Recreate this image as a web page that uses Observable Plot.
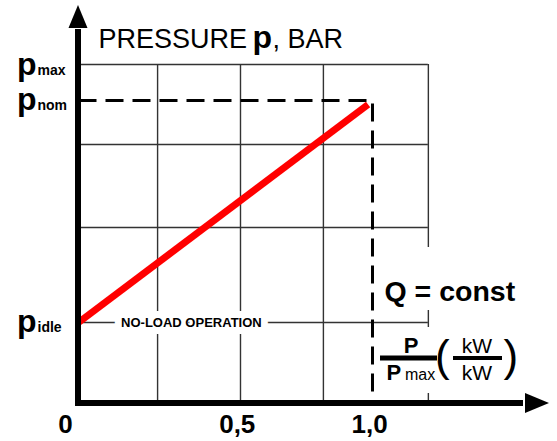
<!DOCTYPE html>
<html>
<head>
<meta charset="utf-8">
<script src="https://cdn.jsdelivr.net/npm/d3@7"></script>
<script src="https://cdn.jsdelivr.net/npm/@observablehq/plot@0.6"></script>
<style>
  html, body { margin: 0; padding: 0; background: #fff; }
</style>
</head>
<body>
<div id="chart"></div>
<script>
// ---- data ----
const pLevels = [1.0, 0.894, 0.239];          // p_max, p_nom, p_idle (relative)
const pSubs = ["max", "nom", "idle"];
const pMax = 1.0, pNom = 0.894, pIdle = 0.239;
const gridX = [0.269, 0.551, 0.833, 1.19];
const gridY = [1.0, 0.764, 0.519, 0.239];
const load = [0, 0.985];                       // P / Pmax
const pressure = [0.239, 0.882];               // pressure line
const xTickValues = [-0.044, 0.54, 0.99];
const xTickLabels = ["0", "0,5", "1,0"];
const titleParts = ["PRESSURE", "p", ", BAR"];
const noteLabel = "NO-LOAD OPERATION";
const noteX = 0.384;
const conditionLabel = "Q = const";

const W = 557, H = 441;
const FONT = "'Liberation Sans', Arial, Helvetica, sans-serif";

function findScales(args) {
  return args.find(a => a && typeof a.x === "function" && typeof a.y === "function");
}

// white boxes behind right-hand labels
function whiteBoxes(...args) {
  const {x, y} = findScales(args);
  const x1 = x(1), y0 = y(0);
  const g = d3.create("svg:g").attr("fill", "white");
  g.append("rect").attr("x", x1 + 6).attr("y", y0 - 156).attr("width", 142).attr("height", 63);
  g.append("rect").attr("x", x1 + 6).attr("y", y0 - 76).attr("width", 142).attr("height", 66);
  return g.node();
}

// axis label P/Pmax (kW/kW)
function fractionLabel(...args) {
  const {x, y} = findScales(args);
  const x1 = x(1), y0 = y(0);
  const g = d3.create("svg:g").attr("font-family", FONT).attr("fill", "black")
    .attr("text-anchor", "start");
  g.append("text").attr("x", x1 + 39).attr("y", y0 - 50).attr("text-anchor", "middle")
    .attr("font-size", 22).attr("font-weight", "bold").text("P");
  g.append("line").attr("x1", x1 + 8).attr("x2", x1 + 65).attr("y1", y0 - 45).attr("y2", y0 - 45)
    .attr("stroke", "black").attr("stroke-width", 5);
  g.append("text").attr("x", x1 + 14.5).attr("y", y0 - 23).attr("text-anchor", "start")
    .attr("font-size", 22).attr("font-weight", "bold").text("P");
  g.append("text").attr("x", x1 + 33).attr("y", y0 - 23).attr("text-anchor", "start")
    .attr("font-size", 16).text("max");
  g.append("text").attr("x", x1 + 63).attr("y", y0 - 32).attr("text-anchor", "start")
    .attr("font-size", 44).text("(");
  g.append("text").attr("x", x1 + 105).attr("y", y0 - 50).attr("text-anchor", "middle")
    .attr("font-size", 21).text("kW");
  g.append("line").attr("x1", x1 + 81).attr("x2", x1 + 130).attr("y1", y0 - 45).attr("y2", y0 - 45)
    .attr("stroke", "black").attr("stroke-width", 4);
  g.append("text").attr("x", x1 + 105).attr("y", y0 - 23).attr("text-anchor", "middle")
    .attr("font-size", 21).text("kW");
  g.append("text").attr("x", x1 + 131.5).attr("y", y0 - 32).attr("text-anchor", "start")
    .attr("font-size", 44).text(")");
  return g.node();
}

// thick axes with filled arrow heads
function axesMark(...args) {
  const {x, y} = findScales(args);
  const x0 = x(0), y0 = y(0);
  const yTip = y(pMax) - 59, xTip = W - 8;
  const g = d3.create("svg:g");
  g.append("path").attr("d", `M${x0},${yTip + 24}V${y0}H${xTip - 26}`)
    .attr("fill", "none").attr("stroke", "black").attr("stroke-width", 6)
    .attr("stroke-linejoin", "miter");
  g.append("path").attr("d", `M${x0},${yTip}L${x0 + 9.5},${yTip + 23}L${x0 - 9.5},${yTip + 23}Z`)
    .attr("fill", "black");
  g.append("path").attr("d", `M${xTip},${y0}L${xTip - 24},${y0 - 10}L${xTip - 24},${y0 + 10}Z`)
    .attr("fill", "black");
  return g.node();
}

const lineData = load.map((v, i) => ({load: v, p: pressure[i]}));
const nomPath = [{load: 0, p: pNom}, {load: 1, p: pNom}, {load: 1, p: 0}];
const levels = pLevels.map((v, i) => ({v, sub: pSubs[i]}));

const chart = Plot.plot({
  width: W,
  height: H,
  marginLeft: 78,
  marginRight: 185,
  marginTop: 64,
  marginBottom: 38,
  x: {domain: [0, 1], axis: null},
  y: {domain: [0, 1], axis: null},
  style: {fontFamily: FONT, background: "white", overflow: "visible", color: "black"},
  marks: [
    Plot.ruleX(gridX, {x: d => d, y1: 0, y2: pMax, stroke: "#333", strokeWidth: 1.4}),
    Plot.ruleY(gridY, {y: d => d, x1: 0, x2: gridX[gridX.length - 1], stroke: "#333", strokeWidth: 1.4}),
    whiteBoxes,
    // title
    Plot.text([titleParts[0]], {x: 0, y: pMax, text: d => d, textAnchor: "start", lineAnchor: "bottom",
      dx: 20, dy: -17, fontSize: 27, fill: "black"}),
    Plot.text([titleParts[1]], {x: 0, y: pMax, text: d => d, textAnchor: "start", lineAnchor: "bottom",
      dx: 174, dy: -17, fontSize: 32, fontWeight: "bold", fill: "black"}),
    Plot.text([titleParts[2]], {x: 0, y: pMax, text: d => d, textAnchor: "start", lineAnchor: "bottom",
      dx: 194, dy: -17, fontSize: 27, fill: "black"}),
    // y labels
    Plot.text(levels, {x: 0, y: "v", text: () => "p", textAnchor: "end", lineAnchor: "bottom",
      dx: -42, dy: 10, fontSize: 32, fontWeight: "bold", fill: "black"}),
    Plot.text(levels, {x: 0, y: "v", text: "sub", textAnchor: "start", lineAnchor: "bottom",
      dx: -41, dy: 10, fontSize: 14, fontWeight: "bold", fill: "black"}),
    // x tick labels
    Plot.text(xTickValues, {x: d => d, y: 0, text: (d, i) => xTickLabels[i], lineAnchor: "bottom",
      dy: 29, fontSize: 26, fontWeight: "bold", fill: "black"}),
    // no-load label with halo
    Plot.text([noteLabel], {x: noteX, y: pIdle, text: d => d, lineAnchor: "middle",
      fontSize: 13, fontWeight: "bold", fill: "white", stroke: "white", strokeWidth: 14, strokeLinejoin: "round"}),
    Plot.text([noteLabel], {x: noteX, y: pIdle, text: d => d, lineAnchor: "middle",
      fontSize: 13, fontWeight: "bold", fill: "black"}),
    // condition label
    Plot.text([conditionLabel], {x: 1, y: 0, text: d => d, textAnchor: "start", lineAnchor: "bottom",
      dx: 12, dy: -103, fontSize: 28.5, fontWeight: "bold", fill: "black"}),
    fractionLabel,
    // nominal dashed line
    Plot.line(nomPath, {x: "load", y: "p", stroke: "black", strokeWidth: 3, strokeDasharray: "18,9",
      strokeLinejoin: "miter", strokeLinecap: "butt"}),
    // pressure line
    Plot.line(lineData, {x: "load", y: "p", stroke: "#ff0000", strokeWidth: 7, strokeLinecap: "butt"}),
    axesMark
  ]
});

document.getElementById("chart").appendChild(chart);
</script>
</body>
</html>
